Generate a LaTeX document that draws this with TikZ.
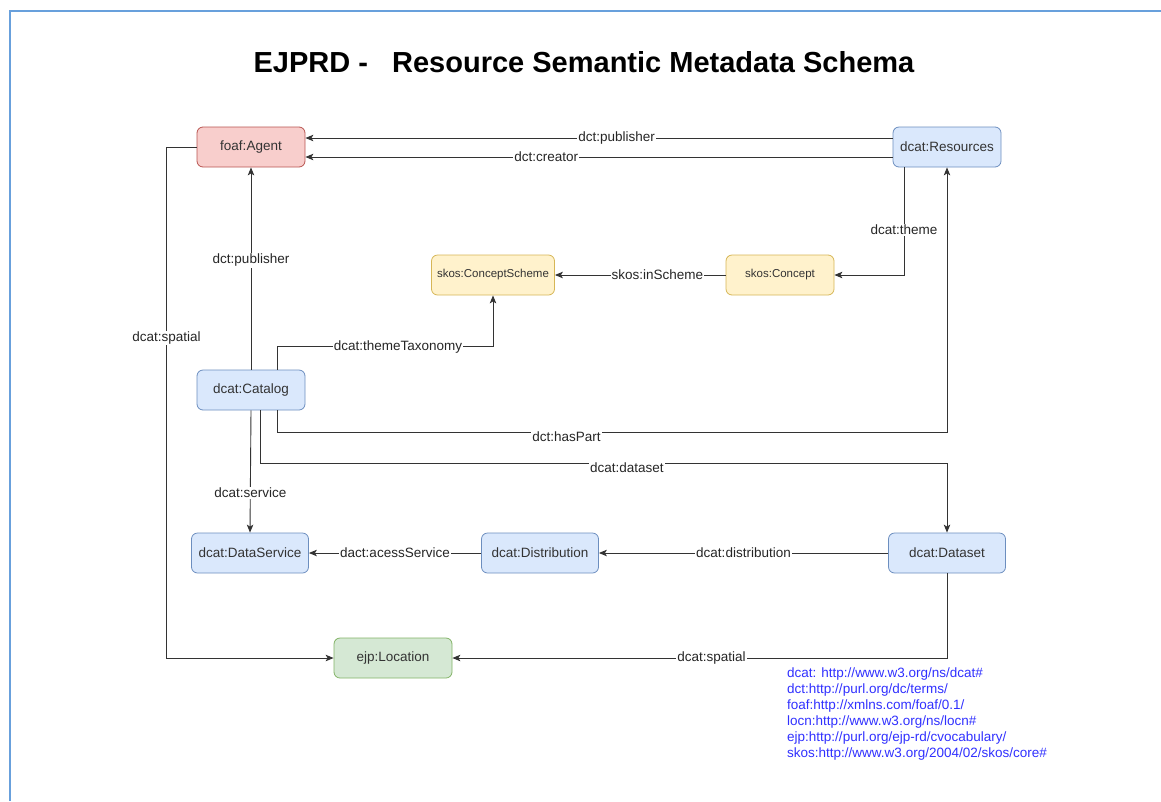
\documentclass[tikz,border=0pt]{standalone}
\usepackage{fontspec}
\setmainfont{Liberation Sans}
\usepackage{tikz}
\usetikzlibrary{arrows.meta,positioning}

\definecolor{bluefill}{HTML}{DAE8FC}
\definecolor{bluedraw}{HTML}{6C8EBF}
\definecolor{redfill}{HTML}{F8CECC}
\definecolor{reddraw}{HTML}{B85450}
\definecolor{yellowfill}{HTML}{FFF2CC}
\definecolor{yellowdraw}{HTML}{D6B656}
\definecolor{greenfill}{HTML}{D5E8D4}
\definecolor{greendraw}{HTML}{82B366}
\definecolor{framecol}{RGB}{104,160,220}
\definecolor{nscol}{RGB}{48,48,255}

\begin{document}
\begin{tikzpicture}[x=1pt,y=-1pt,>={Stealth[length=8pt,width=6.5pt,inset=2pt]},
    klass/.style={draw=#1draw,fill=#1fill,rounded corners=6pt,thick,
      minimum width=108pt,minimum height=40pt,text=black!80,
      font=\fontsize{13.5}{16}\selectfont},
    lbl/.style={fill=white,inner sep=1pt,text=black!85,
      font=\fontsize{13.5}{16}\selectfont},
    rel/.style={->,draw=black!80,line width=0.9pt}]
    \useasboundingbox (0,0) rectangle (1161,801);
    \draw[framecol,line width=2pt] (10,801) |- (1161,11);

    \node (title) at (584,62) {\fontsize{29}{34}\selectfont\bfseries EJPRD -\ \ \ Resource Semantic Metadata Schema};

    \node[klass=red]                        (agent)   at (251,147) {foaf:Agent};
    \node[klass=blue]                       (res)     at (947,147) {dcat:Resources};
    \node[klass=yellow,minimum width=123pt,
          font=\fontsize{11.5}{14}\selectfont] (scheme) at (493,275) {skos:ConceptScheme};
    \node[klass=yellow,
          font=\fontsize{11.5}{14}\selectfont] (concept) at (780,275) {skos:Concept};
    \node[klass=blue]                       (cat)     at (251,390) {dcat:Catalog};
    \node[klass=blue,minimum width=117pt]   (svc)     at (250,553) {dcat:DataService};
    \node[klass=blue,minimum width=117pt]   (dist)    at (540,553) {dcat:Distribution};
    \node[klass=blue,minimum width=117pt]   (dataset) at (947,553) {dcat:Dataset};
    \node[klass=green,minimum width=118pt]  (loc)     at (393,658) {ejp:Location};

    % resources
    \draw[rel] ([yshift=9pt]res.west) -- node[lbl,pos=0.47] {dct:publisher} ([yshift=9pt]agent.east);
    \draw[rel] ([yshift=-10pt]res.west) -- node[lbl,pos=0.59] {dct:creator} ([yshift=-10pt]agent.east);
    \draw[rel] ([xshift=-43pt]res.south) |- node[lbl,pos=0.29] {dcat:theme} (concept.east);
    \draw[rel] (concept.west) -- node[lbl,pos=0.40] {skos:inScheme} (scheme.east);

    % catalog
    \draw[rel] ([xshift=26pt]cat.north) -- ++(0,-23) -| node[lbl,pos=0.28] {dcat:themeTaxonomy} (scheme.south);
    \draw[rel] (cat.north) -- node[lbl,pos=0.54] {dct:publisher} (agent.south);
    \draw[rel] ([xshift=26pt]cat.south) -- ++(0,22) -| node[lbl,pos=0.216,yshift=-4pt] {dct:hasPart} (res.south);
    \draw[rel] ([xshift=9pt]cat.south) -- ++(0,53) -| node[lbl,pos=0.267,yshift=-4pt] {dcat:dataset} (dataset.north);
    \draw[rel] (cat.south) -- node[lbl,pos=0.675] {dcat:service} (svc.north);

    % dataset
    \draw[rel] (dataset.west) -- node[lbl,pos=0.50] {dcat:distribution} (dist.east);
    \draw[rel] (dist.west) -- node[lbl,pos=0.50] {dact:acessService} (svc.east);
    \draw[rel] (dataset.south) |- node[lbl,pos=0.738] {dcat:spatial} (loc.east);
    \draw[rel] (agent.west) -- ++(-30,0) |- node[lbl,pos=0.187] {dcat:spatial} (loc.west);

    % namespaces
    \node[anchor=north west,align=left,inner sep=0pt,text=nscol,
          font=\fontsize{13.5}{16}\selectfont] (ns) at (787,668)
      {dcat: http://www.w3.org/ns/dcat\#\\
       dct:http://purl.org/dc/terms/\\
       foaf:http://xmlns.com/foaf/0.1/\\
       locn:http://www.w3.org/ns/locn\#\\
       ejp:http://purl.org/ejp-rd/cvocabulary/\\
       skos:http://www.w3.org/2004/02/skos/core\#};
\end{tikzpicture}
\end{document}
